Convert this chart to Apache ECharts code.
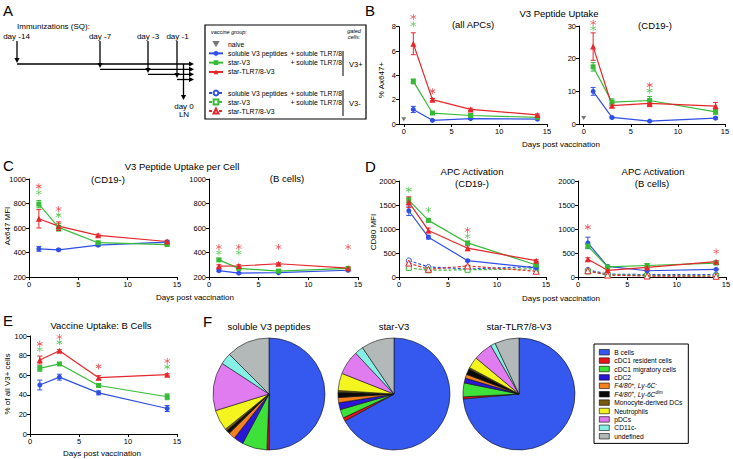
<!DOCTYPE html>
<html>
<head>
<meta charset="utf-8">
<script src="https://cdn.jsdelivr.net/npm/echarts@6/dist/echarts.min.js"></script>
<style>
html, body { margin: 0; padding: 0; background: #fff; }
#chart { width: 733px; height: 459px; }
</style>
</head>
<body>
<div id="chart"></div>
<script>
// days post vaccination (x values) and x tick labels
const days = [1, 3, 7, 14];
const axisDays = [0, 5, 10, 15];

// B: V3 peptide uptake, % Ax647+ (all APCs)
const bAllSol = [1.2, 0.3, 0.45, 0.4];
const bAllSolErr = [0.25, 0.05, 0.08, 0.05];
const bAllStar = [3.5, 0.9, 0.7, 0.55];
const bAllStarErr = [0.2, 0.08, 0.08, 0.05];
const bAllTlr = [6.6, 2.0, 1.2, 0.75];
const bAllTlrErr = [0.9, 0.1, 0.1, 0.08];
const bAllNaive = 0.4;
const bAllSigRed = [[1, 8.8], [3, 2.7]];
const bAllSigGreen = [[1, 8.2]];

// B: % Ax647+ (CD19-)
const bCdSol = [10, 2.0, 0.9, 1.8];
const bCdSolErr = [1.2, 0.2, 0.2, 0.3];
const bCdStar = [17.5, 6.7, 7.2, 3.7];
const bCdStarErr = [1.3, 1.0, 1.2, 0.7];
const bCdTlr = [23.7, 5.6, 6.3, 5.5];
const bCdTlrErr = [4.2, 0.5, 1.0, 1.1];
const bCdNaive = 1.8;
const bCdSigRed = [[1, 31], [7, 11.9]];
const bCdSigGreen = [[1, 29.3], [7, 10.2]];

// C: V3 peptide uptake per cell, Ax647 MFI (CD19-)
const cCdSol = [430, 422, 460, 485];
const cCdSolErr = [20, 8, 10, 10];
const cCdStar = [795, 605, 480, 465];
const cCdStarErr = [30, 30, 8, 8];
const cCdTlr = [675, 615, 540, 490];
const cCdTlrErr = [75, 35, 10, 10];
const cCdSigRed = [[1, 940], [3, 755]];
const cCdSigGreen = [[1, 890], [3, 705]];

// C: Ax647 MFI (B cells)
const cBSol = [252, 232, 235, 255];
const cBSolErr = [8, 5, 5, 5];
const cBStar = [340, 270, 248, 270];
const cBStarErr = [10, 8, 5, 5];
const cBTlr = [288, 290, 308, 272];
const cBTlrErr = [12, 10, 8, 5];
const cBSigRed = [[1, 445], [3, 445], [7, 445], [14, 445]];
const cBSigGreen = [[1, 400], [3, 400]];

// D: APC activation, CD80 MFI (CD19-), V3+ solid and V3- dashed
const dCdSol = [1380, 830, 340, 190];
const dCdSolErr = [100, 40, 20, 20];
const dCdStar = [1600, 1180, 710, 250];
const dCdStarErr = [50, 30, 30, 20];
const dCdTlr = [1560, 970, 600, 340];
const dCdTlrErr = [110, 50, 50, 20];
const dCdSolNeg = [345, 210, 165, 220];
const dCdStarNeg = [190, 140, 150, 170];
const dCdTlrNeg = [290, 160, 230, 120];
const dCdNegErr = [20, 10, 10, 10];
const dCdSigRed = [[7, 980]];
const dCdSigGreen = [[1, 1820], [3, 1400], [7, 850]];

// D: CD80 MFI (B cells)
const dBSol = [710, 220, 130, 160];
const dBSolErr = [120, 20, 10, 10];
const dBStar = [645, 210, 240, 290];
const dBStarErr = [40, 20, 40, 30];
const dBTlr = [370, 140, 200, 320];
const dBTlrErr = [30, 15, 20, 20];
const dBSolNeg = [150, 60, 50, 50];
const dBStarNeg = [115, 50, 30, 20];
const dBTlrNeg = [130, 40, 20, 15];
const dBNegErr = [10, 5, 5, 5];
const dBSigRed = [[1, 1040], [14, 530]];
const dBSigGreen = [];

// E: vaccine uptake B cells, % of all V3+ cells
const eSol = [50, 58, 42, 26];
const eSolErr = [5, 3, 2, 3];
const eStar = [67, 71.5, 49.5, 38];
const eStarErr = [3, 1, 1, 3];
const eTlr = [75.5, 85, 57.5, 60.5];
const eTlrErr = [4, 1, 2, 1];
const eSigRed = [[1, 92], [3, 99], [7, 69], [14, 74.5]];
const eSigGreen = [[1, 86.5], [3, 93.5], [14, 68.5]];

// F: composition of V3+ cells (%)
const cellTypes = ['B cells', 'cDC1 resident cells', 'cDC1 migratory cells', 'cDC2',
  'F4/80+, Ly-6C-', 'F4/80+, Ly-6Cdim', 'Monocyte-derived DCs', 'Neutrophils', 'pDCs', 'CD11c-', 'undefined'];
const pieSoluble = [50, 0.6, 7.2, 2.8, 2, 1, 0.6, 6, 14, 3.3, 12.5];
const pieStar = [67, 1, 2.5, 2, 1.5, 1.5, 0.5, 5, 7, 2.5, 9.5];
const pieTlr = [73.6, 0.6, 4, 1.4, 1.1, 1.7, 0.4, 3.3, 5.5, 1.4, 7];

const FONT = 'Arial, Liberation Sans, sans-serif';
const BLUE = '#2f4fe6', GREEN = '#35bb35', RED = '#e6262b';
const cellColors = ['#3558ee', '#e8141c', '#3ee03a', '#2a16d6', '#f5801e', '#0a0a0a',
  '#7a5a12', '#f4f41e', '#e07cf0', '#86f0e6', '#b3b9b9'];
const groupStyle = {
  sol: { color: BLUE, symbol: 'circle', size: 5 },
  star: { color: GREEN, symbol: 'rect', size: 5 },
  tlr: { color: RED, symbol: 'triangle', size: 6 }
};
const ASTERISK = 'path://M4.4,0h1.2v10h-1.2z M0.37,3.02L0.97,1.98L9.63,6.98L9.03,8.02z M0.37,6.98L9.03,1.98L9.63,3.02L0.97,8.02z';
const DOWN_TRI = 'path://M0,0L10,0L5,8z';

const series = [];

function renderErr(params, api) {
    const x = api.value(0);
    const top = api.coord([x, api.value(2)]);
    const bot = api.coord([x, api.value(1)]);
    const st = { stroke: api.visual('color'), lineWidth: 1 };
    const w = 2.5;
    return {
        type: 'group',
        children: [
            { type: 'line', shape: { x1: top[0], y1: top[1], x2: bot[0], y2: bot[1] }, style: st },
            { type: 'line', shape: { x1: top[0] - w, y1: top[1], x2: top[0] + w, y2: top[1] }, style: st },
            { type: 'line', shape: { x1: bot[0] - w, y1: bot[1], x2: bot[0] + w, y2: bot[1] }, style: st }
        ]
    };
}

function addGroup(gi, key, vals, errs, open) {
    const g = groupStyle[key];
    series.push({
        type: 'custom', name: 'err', xAxisIndex: gi, yAxisIndex: gi, silent: true, z: 3,
        itemStyle: { color: g.color },
        renderItem: renderErr,
        encode: { x: 0, y: [1, 2] },
        data: days.map((d, i) => [d, vals[i] - errs[i], vals[i] + errs[i]])
    });
    series.push({
        type: 'line', name: open ? key + 'N' : key, xAxisIndex: gi, yAxisIndex: gi, silent: true, z: 4,
        symbol: g.symbol, symbolSize: g.size, showAllSymbol: true,
        lineStyle: { color: g.color, width: 1.2, type: open ? [3, 2] : 'solid' },
        itemStyle: open ? { color: '#fff', borderColor: g.color, borderWidth: 1 } : { color: g.color },
        data: days.map((d, i) => [d, vals[i]])
    });
}

function addSig(gi, pts, color) {
    if (!pts.length) return;
    series.push({
        type: 'scatter', name: 'sig', xAxisIndex: gi, yAxisIndex: gi, silent: true, z: 5, clip: false,
        symbol: ASTERISK, symbolSize: 6, itemStyle: { color: color }, data: pts
    });
}

function addNaive(gi, v) {
    series.push({
        type: 'scatter', name: 'naive', xAxisIndex: gi, yAxisIndex: gi, silent: true, z: 5,
        symbol: DOWN_TRI, symbolSize: [5, 4], itemStyle: { color: '#555' }, data: [[0, v]]
    });
}

// panel B
addGroup(0, 'sol', bAllSol, bAllSolErr); addGroup(0, 'star', bAllStar, bAllStarErr); addGroup(0, 'tlr', bAllTlr, bAllTlrErr);
addNaive(0, bAllNaive); addSig(0, bAllSigRed, RED); addSig(0, bAllSigGreen, GREEN);
addGroup(1, 'sol', bCdSol, bCdSolErr); addGroup(1, 'star', bCdStar, bCdStarErr); addGroup(1, 'tlr', bCdTlr, bCdTlrErr);
addNaive(1, bCdNaive); addSig(1, bCdSigRed, RED); addSig(1, bCdSigGreen, GREEN);
// panel C
addGroup(2, 'sol', cCdSol, cCdSolErr); addGroup(2, 'star', cCdStar, cCdStarErr); addGroup(2, 'tlr', cCdTlr, cCdTlrErr);
addSig(2, cCdSigRed, RED); addSig(2, cCdSigGreen, GREEN);
addGroup(3, 'sol', cBSol, cBSolErr); addGroup(3, 'star', cBStar, cBStarErr); addGroup(3, 'tlr', cBTlr, cBTlrErr);
addSig(3, cBSigRed, RED); addSig(3, cBSigGreen, GREEN);
// panel D (dashed = V3- cells)
addGroup(4, 'sol', dCdSolNeg, dCdNegErr, true); addGroup(4, 'star', dCdStarNeg, dCdNegErr, true); addGroup(4, 'tlr', dCdTlrNeg, dCdNegErr, true);
addGroup(4, 'sol', dCdSol, dCdSolErr); addGroup(4, 'star', dCdStar, dCdStarErr); addGroup(4, 'tlr', dCdTlr, dCdTlrErr);
addSig(4, dCdSigRed, RED); addSig(4, dCdSigGreen, GREEN);
addGroup(5, 'sol', dBSolNeg, dBNegErr, true); addGroup(5, 'star', dBStarNeg, dBNegErr, true); addGroup(5, 'tlr', dBTlrNeg, dBNegErr, true);
addGroup(5, 'sol', dBSol, dBSolErr); addGroup(5, 'star', dBStar, dBStarErr); addGroup(5, 'tlr', dBTlr, dBTlrErr);
addSig(5, dBSigRed, RED); addSig(5, dBSigGreen, GREEN);
// panel E
addGroup(6, 'sol', eSol, eSolErr); addGroup(6, 'star', eStar, eStarErr); addGroup(6, 'tlr', eTlr, eTlrErr);
addSig(6, eSigRed, RED); addSig(6, eSigGreen, GREEN);

// panel F pies
function addPie(vals, cx, title) {
    series.push({
        type: 'pie', name: title, center: [cx, 394], radius: 56, startAngle: 90, clockwise: true,
        silent: true, label: { show: false }, labelLine: { show: false },
        itemStyle: { borderColor: '#111', borderWidth: 0.6 },
        data: cellTypes.map((n, i) => ({ name: n, value: vals[i], itemStyle: { color: cellColors[i] } }))
    });
}
addPie(pieSoluble, 269, 'soluble V3 peptides');
addPie(pieStar, 394, 'star-V3');
addPie(pieTlr, 519, 'star-TLR7/8-V3');

// layout of the seven line panels
const grids = [
    { left: 399, top: 26.7, width: 148, height: 97.3 },
    { left: 579, top: 26, width: 146, height: 98 },
    { left: 29, top: 179, width: 148, height: 98 },
    { left: 209, top: 179, width: 149, height: 98 },
    { left: 399, top: 181, width: 147, height: 96 },
    { left: 578, top: 181, width: 148, height: 96 },
    { left: 30, top: 336, width: 147, height: 98 }
];
const yRanges = [[0, 8, 2], [0, 30, 10], [200, 1000, 200], [200, 1000, 200], [0, 2000, 500], [0, 2000, 500], [0, 100, 20]];

const axisCommon = {
    axisLine: { show: true, onZero: false, lineStyle: { color: '#000', width: 1 } },
    axisTick: { show: true, length: 3, lineStyle: { color: '#000', width: 1 } },
    splitLine: { show: false }
};
const xAxes = grids.map((g, i) => Object.assign({}, axisCommon, {
    gridIndex: i, type: 'value', min: i < 2 ? -0.5 : 0, max: 15,
    axisTick: Object.assign({}, axisCommon.axisTick, { customValues: axisDays }),
    axisLabel: { customValues: axisDays, fontSize: 7.5, color: '#000', margin: 3, fontFamily: FONT }
}));
const yAxes = yRanges.map((r, i) => Object.assign({}, axisCommon, {
    gridIndex: i, type: 'value', min: r[0], max: r[1], interval: r[2],
    axisLabel: { fontSize: 7.5, color: '#000', margin: 3, fontFamily: FONT, formatter: v => String(v) }
}));

// horizontal texts as title components
function ttl(x, y, s, size, align) {
    size = size || 8;
    return {
        text: s, left: x, top: y - size / 2, textAlign: align || 'center', padding: 0,
        textStyle: { fontSize: size, lineHeight: size, fontWeight: 'normal', fontFamily: FONT, color: '#000' }
    };
}
const titles = [
    ttl(3, 10, 'A', 15, 'left'), ttl(365, 10, 'B', 15, 'left'),
    ttl(3, 165, 'C', 15, 'left'), ttl(365, 166, 'D', 15, 'left'),
    ttl(3, 320, 'E', 15, 'left'), ttl(203, 321, 'F', 15, 'left'),
    ttl(17, 26, 'Immunizations (SQ):', 8, 'left'),
    ttl(16.5, 36, 'day -14'), ttl(100, 36, 'day -7'), ttl(148, 36, 'day -3'), ttl(177.5, 36, 'day -1'),
    ttl(184, 106, 'day 0'), ttl(184, 114, 'LN'),
    ttl(349, 64, 'V3+', 7.5, 'left'), ttl(349, 103, 'V3-', 7.5, 'left'),
    ttl(559, 13, 'V3 Peptide Uptake', 9.5),
    ttl(473, 24, '(all APCs)', 9.5),
    ttl(655, 25, '(CD19-)', 9.5),
    ttl(561, 144, 'Days post vaccination'),
    ttl(182, 166, 'V3 Peptide Uptake per Cell', 9.5),
    ttl(108, 179, '(CD19-)', 9.5),
    ttl(287, 178, '(B cells)', 9.5),
    ttl(195, 297, 'Days post vaccination'),
    ttl(472, 171, 'APC Activation', 9.5),
    ttl(472, 183, '(CD19-)', 9.5),
    ttl(653, 171, 'APC Activation', 9.5),
    ttl(652, 183, '(B cells)', 9.5),
    ttl(561, 298, 'Days post vaccination'),
    ttl(101, 325, 'Vaccine Uptake: B Cells', 9.5),
    ttl(102, 453, 'Days post vaccination'),
    ttl(269, 326, 'soluble V3 peptides', 9.5),
    ttl(394, 326, 'star-V3', 9.5),
    ttl(519, 326, 'star-TLR7/8-V3', 9.5)
];

function txt(x, y, s, o) {
    o = o || {};
    const size = o.size || 8;
    return {
        type: 'text', x: x, y: y, rotation: o.rot || 0, silent: true,
        style: {
            text: s, fill: '#000', fontSize: size, fontFamily: FONT, fontWeight: 'normal',
            fontStyle: o.italic ? 'italic' : 'normal',
            align: o.align || 'center', verticalAlign: o.va || 'middle'
        }
    };
}
function seg(x1, y1, x2, y2, w) {
    return { type: 'line', silent: true, shape: { x1: x1, y1: y1, x2: x2, y2: y2 }, style: { stroke: '#000', lineWidth: w || 1.3 } };
}
function headDown(x, y) {
    return { type: 'polygon', silent: true, shape: { points: [[x - 2.6, y - 5], [x + 2.6, y - 5], [x, y]] }, style: { fill: '#000' } };
}
function headRight(x, y) {
    return { type: 'polygon', silent: true, shape: { points: [[x - 5, y - 2.6], [x - 5, y + 2.6], [x, y]] }, style: { fill: '#000' } };
}

const graphics = [
    // A: immunization schedule arrows
    seg(17, 41, 17, 60), headDown(17, 63), seg(17, 64, 190, 64), headRight(194, 64),
    seg(100, 41, 100, 65), headDown(100, 68), seg(100, 69.3, 190, 69.3), headRight(194, 69.3),
    seg(148, 41, 148, 70), headDown(148, 73), seg(148, 74.3, 190, 74.3), headRight(194, 74.3),
    seg(177, 41, 177, 75), headDown(177, 78), seg(177, 79.5, 190, 79.5), headRight(194, 79.5),
    seg(183.5, 64, 183.5, 96), headDown(183.5, 100),
    // A: legend box decoration
    { type: 'rect', silent: true, shape: { x: 205, y: 25, width: 161, height: 94 }, style: { fill: 'none', stroke: '#000', lineWidth: 1.2 } },
    txt(211, 32, 'vaccine group:', { size: 5.5, italic: true, align: 'left' }),
    txt(354, 31, 'gated', { size: 5.5, italic: true }),
    txt(354, 37, 'cells:', { size: 5.5, italic: true }),
    seg(343, 51, 343, 76, 1), seg(343, 90, 343, 116, 1),
    // rotated y axis names
    txt(381, 80, '% Ax647+', { rot: Math.PI / 2 }),
    txt(7, 226, 'Ax647 MFI', { rot: Math.PI / 2 }),
    txt(373, 232, 'CD80 MFI', { rot: Math.PI / 2 }),
    txt(7, 384, '% of all V3+ cells', { rot: Math.PI / 2 })
];

const groupLabels = {
    naive: 'naive',
    sol: '{a|soluble V3 peptides}{b|+ soluble TLR7/8}',
    star: '{a|star-V3}{b|+ soluble TLR7/8}',
    tlr: '{a|star-TLR7/8-V3}',
    solN: '{a|soluble V3 peptides}{b|+ soluble TLR7/8}',
    starN: '{a|star-V3}{b|+ soluble TLR7/8}',
    tlrN: '{a|star-TLR7/8-V3}'
};
const cellLabels = {
    'F4/80+, Ly-6C-': '{i|F4/80}{s|+}{i|, Ly-6C}{s|-}',
    'F4/80+, Ly-6Cdim': '{i|F4/80}{s|+}{i|, Ly-6C}{s|dim}'
};

function groupLegend(names, top, lh) {
    return {
        data: names, left: 208, top: top, orient: 'vertical', padding: 0,
        itemWidth: 14, itemHeight: 6, itemGap: 0, selectedMode: false,
        textStyle: {
            fontSize: 6.8, lineHeight: lh, color: '#000', fontFamily: FONT,
            rich: { a: { width: 62.5, fontSize: 6.8, lineHeight: lh, fontFamily: FONT }, b: { fontSize: 6.8, lineHeight: lh, fontFamily: FONT } }
        },
        formatter: n => groupLabels[n]
    };
}

const option = {
    animation: false,
    backgroundColor: '#fff',
    title: titles,
    grid: grids.map(g => Object.assign({ outerBoundsMode: 'none', containLabel: false }, g)),
    xAxis: xAxes,
    yAxis: yAxes,
    legend: [
        groupLegend(['naive', 'sol', 'star', 'tlr'], 39.4, 9.3),
        groupLegend(['solN', 'starN', 'tlrN'], 88.5, 9),
        {
            data: cellTypes, left: 594, top: 344, orient: 'vertical', padding: [4, 6, 3, 5],
            borderColor: '#000', borderWidth: 1, itemWidth: 10, itemHeight: 5.5, itemGap: 0,
            icon: 'rect', selectedMode: false,
            itemStyle: { borderColor: '#000', borderWidth: 0.6 },
            textStyle: {
                fontSize: 6.7, lineHeight: 8.4, color: '#000', fontFamily: FONT,
                rich: {
                    i: { fontStyle: 'italic', fontSize: 6.7, lineHeight: 8.4, fontFamily: FONT },
                    s: { fontStyle: 'italic', fontSize: 4.5, lineHeight: 8.4, verticalAlign: 'top', fontFamily: FONT }
                }
            },
            formatter: n => cellLabels[n] || n
        }
    ],
    graphic: { elements: graphics },
    series: series
};

const myChart = echarts.init(document.getElementById('chart'), null, { renderer: 'svg' });
myChart.setOption(option);
</script>
</body>
</html>
